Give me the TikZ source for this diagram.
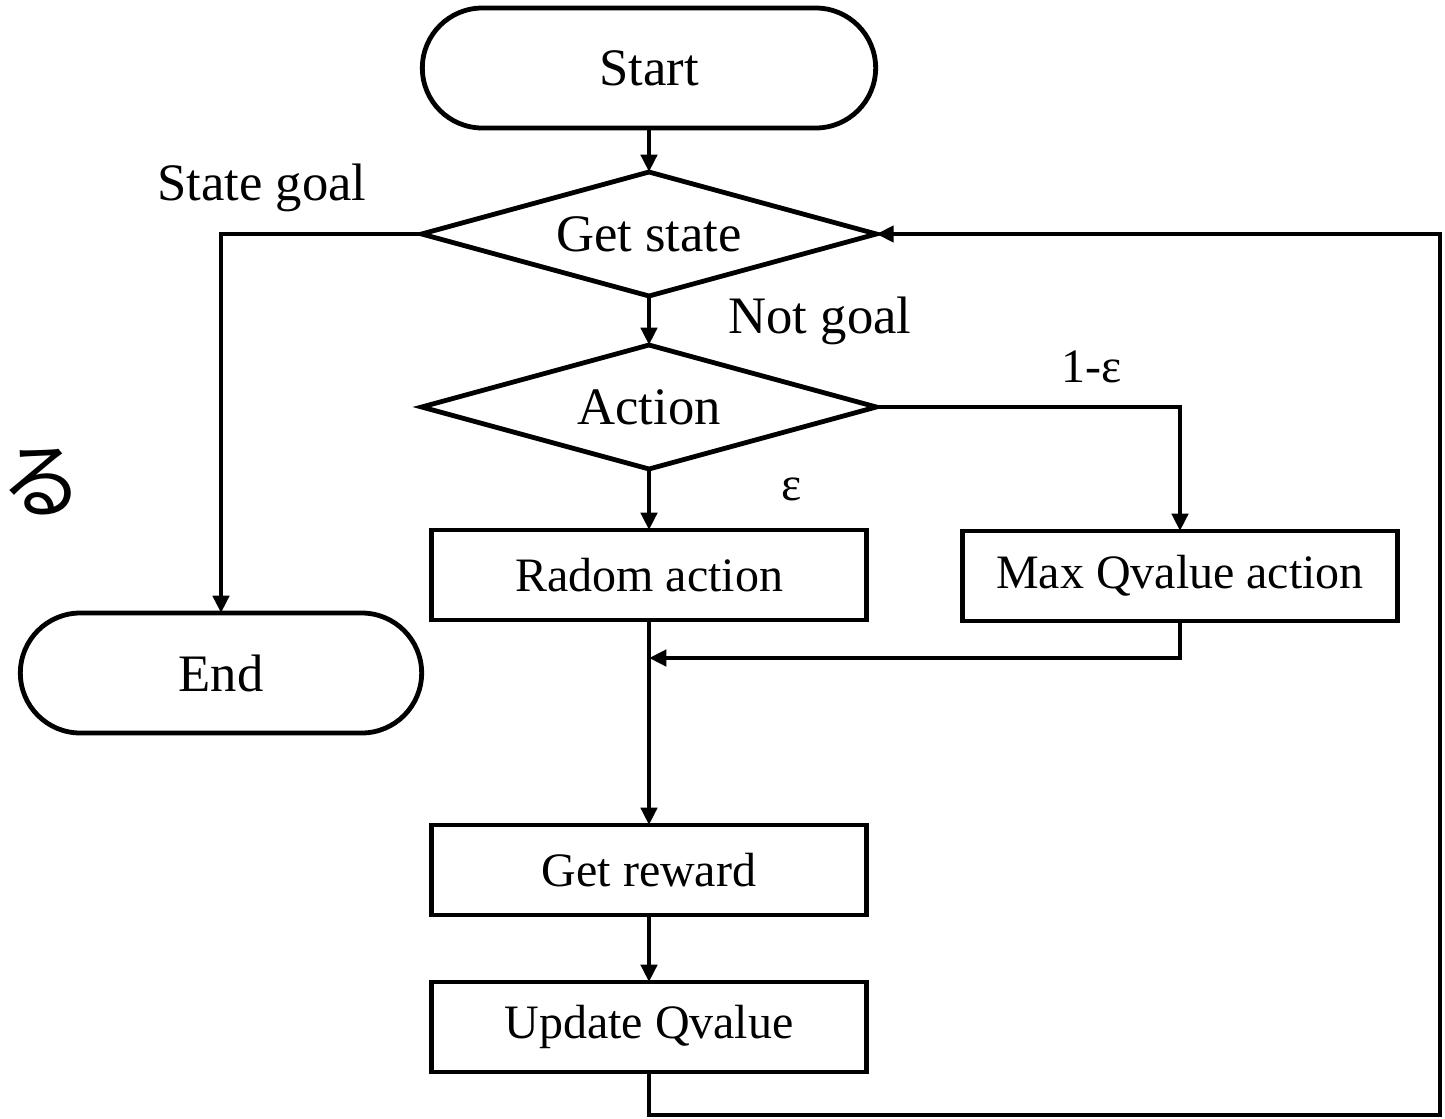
\documentclass[tikz,border=0pt]{standalone}
\usepackage{fontspec}
\setmainfont{Liberation Serif}
\newfontfamily\cjk{Noto Sans CJK JP}
\usetikzlibrary{shapes.geometric,arrows.meta}
\begin{document}
\begin{tikzpicture}[x=0.75pt,y=-0.75pt,
  base/.style={draw, line width=3.6pt, inner sep=0pt, outer sep=0pt, fill=white},
  bigtxt/.style={font=\fontsize{39.5}{44}\selectfont},
  boxtxt/.style={font=\fontsize{36}{40}\selectfont},
  term/.style={base, bigtxt, rectangle, rounded corners=45pt, minimum height=90pt},
  decide/.style={base, bigtxt, diamond, aspect=3.66, minimum width=341pt, minimum height=93pt},
  proc/.style={base, boxtxt, rectangle, minimum width=326pt, minimum height=67.5pt},
  lbl/.style={bigtxt, inner sep=0pt, anchor=base},
  arr/.style={line width=3.6pt, -{Triangle[length=13pt,width=12pt]}}
]
\useasboundingbox (0,0) rectangle (1445,1118);

% nodes
\node[term, minimum width=340pt] (start) at (649,68) {Start};
\node[decide] (gs) at (649,234) {Get state};
\node[decide] (act) at (649,407) {Action};
\node[proc] (rand) at (649,575) {Radom action};
\node[proc] (maxq) at (1180,576) {Max Qvalue action};
\node[proc] (rew) at (649,870) {Get reward};
\node[proc] (upd) at (649,1027) {Update Qvalue};
\node[term, minimum width=301pt] (end) at (221,673) {End};

% labels
\node[lbl] (lsg) at (262,200) {State goal};
\node[lbl] (lng) at (820,333) {Not goal};
\node[lbl, font=\fontsize{36}{40}\selectfont] (l1e) at (1092,382) {1-ε};
\node[lbl, font=\fontsize{36}{40}\selectfont] (le) at (792,500) {ε};
\node[font=\cjk\fontsize{62}{66}\selectfont, inner sep=0pt] (jp) at (42,482) {る};

% helper coordinates
\coordinate (merge) at (649,658);
\coordinate (lb) at (649,1115);
\coordinate (rb) at (1440,1115);

% connectors
\draw[arr] (start.south) -- (gs.north);
\draw[arr] (gs.south) -- (act.north);
\draw[arr] (act.south) -- (rand.north);
\draw[arr] (act.east) -| (maxq.north);
\draw[arr] (maxq.south) |- (merge);
\draw[arr] (rand.south) -- (rew.north);
\draw[arr] (rew.south) -- (upd.north);
\draw[arr] (upd.south) -- (lb) -- (rb) |- (gs.east);
\draw[arr] (gs.west) -| (end.north);
\end{tikzpicture}
\end{document}
